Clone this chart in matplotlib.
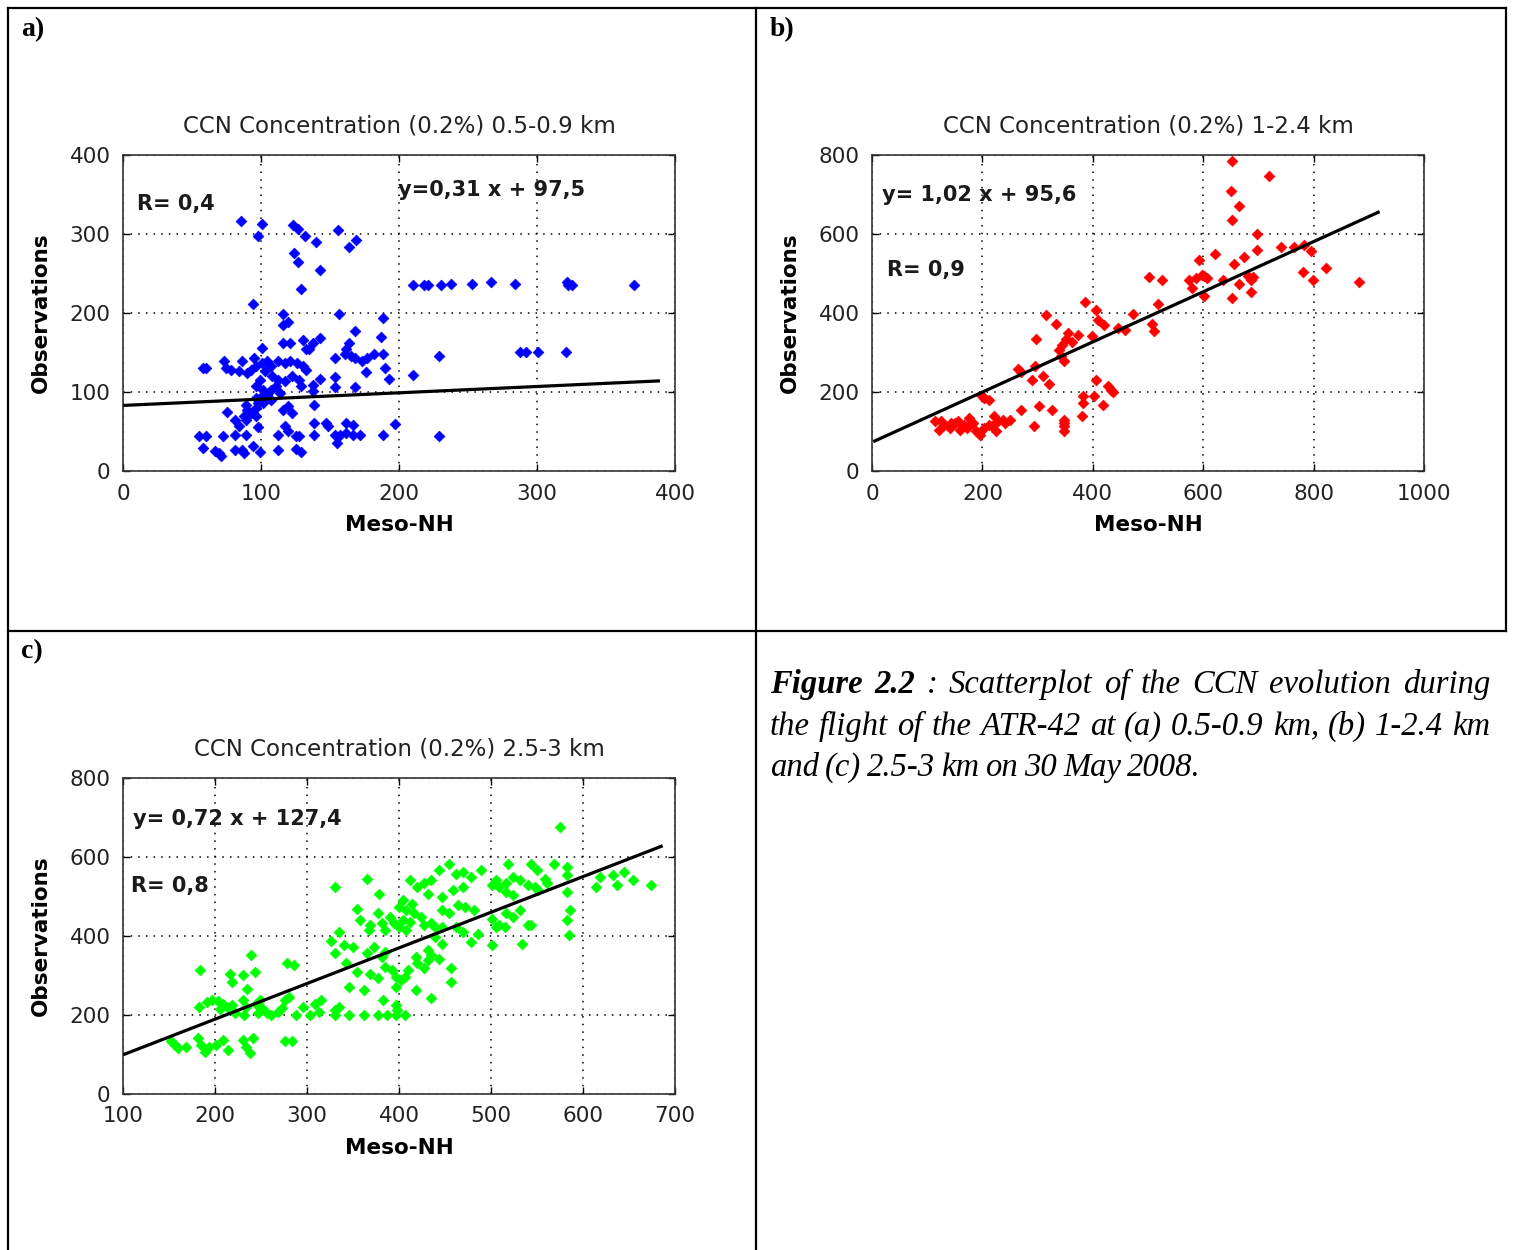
import matplotlib
matplotlib.use("Agg")
import matplotlib.pyplot as plt
from matplotlib.lines import Line2D

# ---- panel a : 0.5-0.9 km ----
a_x = [85.5, 101, 98, 123, 127, 132, 156, 140, 169, 164, 124, 127, 143, 129, 94,
       210, 218, 221, 230.6, 238, 252.6, 267, 284, 321.5, 322.5, 325, 370,
       288, 292, 300.5, 320.7, 228.8, 228.8, 210, 197, 188.6, 188.6, 186.8, 188.6,
       190, 192.5, 182, 177, 173, 176, 168, 164, 161.4, 160.9, 165, 168, 153.6,
       156.7, 153.6, 153.6, 168, 143, 138, 138, 142.7, 138, 132.9, 135, 130.3,
       121, 116, 116, 116, 119.4, 101, 95,
       57.8, 60.4, 73.3, 74.6, 78.5, 86.3, 83.7, 90.2, 92.7, 96.6, 100.5, 104.4,
       107.0, 112.2, 117.4, 121.2, 126.4, 130.3, 132.9, 103.1, 108.3, 112.2, 117.4,
       122.5, 127.7, 129.0, 99.2, 96.6, 101.8, 107.0, 110.9, 113.5, 104.4, 100.5,
       96.6, 88.9, 90.2, 91.5, 94.0, 96.6, 97.9, 101.8, 107.0, 87.6, 96.6, 88.9,
       75.4, 81.1, 83.7, 81.1, 88.9, 97.9, 116.1, 119.9, 122.5, 117.4, 119.9,
       112.2, 125.1, 127.7, 138.1, 138.1, 138.1, 147.2, 148.4, 153.6, 157.5,
       161.4, 166.6, 171.8, 154.9, 161.4, 166.6, 55.2, 60.4, 72.5, 57.8, 66.8,
       69.4, 70.7, 81.1, 86.3, 87.6, 94.0, 99.2, 112.2, 125.1, 129.0]
a_y = [316, 313, 298, 312, 306, 298, 305, 290, 293, 283, 276, 265, 255, 230, 212,
       235, 235, 235, 235, 237, 237, 239, 237, 239, 235, 235, 235,
       151, 151, 151, 151, 145, 44, 122, 59, 46, 194, 170, 148.5,
       130, 116, 148, 143, 139, 125, 177, 162, 154, 148, 146, 143, 143,
       199, 119, 106, 106, 116, 109, 101, 168, 162, 154, 154, 166,
       162, 162, 199, 185, 189, 156, 143,
       130.4, 130.4, 138.8, 130.4, 128.3, 138.8, 126.2, 124.1, 128.3, 132.5, 136.7, 138.8,
       132.5, 138.8, 136.7, 138.8, 136.7, 132.5, 128.3, 126.2, 119.8, 115.6, 113.5,
       119.8, 115.6, 107.2, 115.6, 107.2, 103.0, 103.0, 107.2, 98.7, 96.6, 94.5,
       92.4, 84.0, 77.6, 71.3, 73.4, 79.7, 86.1, 86.1, 90.3, 69.2, 69.2, 65.0,
       74.7, 65.0, 56.5, 46.0, 46.0, 55.7, 77.6, 81.9, 73.4, 56.5, 50.2,
       46.0, 43.9, 43.9, 84.0, 60.8, 46.0, 60.8, 56.5, 46.0, 46.0,
       48.1, 46.0, 46.0, 35.4, 60.8, 58.6, 43.9, 43.9, 43.9, 29.1, 24.9,
       22.8, 18.6, 27.0, 27.0, 22.8, 32.1, 23.6, 27.0, 27.8, 23.6]
a_fit_x = [0, 388]
a_fit_y = [83, 114]

# ---- panel b : 1-2.4 km ----
b_x = [653, 720, 650, 665, 653, 697, 697, 741, 765, 783, 795, 674, 656, 621, 592,
       823, 780, 799, 883, 681, 686, 691, 686, 665, 653, 635, 601, 606, 597, 587,
       574, 580, 601, 502, 525, 519, 472, 508, 511, 458, 445, 420, 409, 406, 399,
       385, 315, 333, 373, 355, 362, 351, 344, 338, 343, 347, 297, 296, 289, 309,
       320, 265, 270, 302, 326, 294, 270, 406, 402, 383, 382, 381, 428, 433, 437,
       419, 348, 348, 348, 348,
       114.6, 121, 130.7, 140.5, 150.2, 159.9, 166.3, 176, 182.5, 189, 195.5, 202,
       211.7, 221.4, 227.8, 237.5, 250.5, 224.6, 202, 211.7, 198.7, 124.3, 143.7,
       156.6, 172.8, 218.1, 240.8]
b_y = [784, 748, 708, 672, 636, 601, 560, 566, 566, 573, 556, 541, 524, 550, 535,
       514, 504, 484, 478, 493, 484, 491, 453, 473, 438, 484, 493, 489, 497, 489,
       484, 463, 442, 490, 484, 424, 398, 373, 354, 358, 362, 369, 383, 408, 343,
       428, 394, 373, 345, 349, 327, 333, 320, 307, 290, 278, 333, 267, 231, 241,
       219, 257, 250, 165, 155, 115, 155, 231, 191, 189, 172, 140, 214, 206, 199,
       168, 130, 122, 113, 102,
       125.7, 104.6, 117.3, 108.9, 121.5, 104.6, 117.3, 134.2, 121.5, 100.4, 92, 108.9,
       117.3, 138.4, 125.7, 130, 130, 100.4, 184.8, 180.6, 189, 125.7, 121.5,
       125.7, 108.9, 113.1, 121.5]
b_fit_x = [5, 917]
b_fit_y = [76, 655]

# ---- panel c : 2.5-3 km ----
c_x = [183.3, 182.6, 191, 197, 203, 208.5, 205, 214, 218, 222, 216, 218, 230, 243,
       234.5, 239.5, 230, 234, 232, 245, 249, 251, 247, 257, 261, 269, 272.5, 276,
       280, 288, 296, 303.5, 309, 315, 313, 330.6, 334.5, 330.6, 346, 361.6, 377,
       387, 396.5, 406, 383, 396.5, 398, 278, 286,
       152, 156, 160, 168, 181, 185, 189, 193, 201, 208.5, 214, 230, 234, 237.5,
       241.5, 276, 284,
       354, 358, 367.4, 369, 377, 381, 385, 390.7, 394.6, 400, 404, 408, 412, 416,
       423.6, 427.5, 435, 439, 447, 326, 335, 330.6, 340, 350, 365.5, 373, 381,
       385, 342, 354, 346, 361.6, 369, 377, 385, 392.6, 396.5, 402, 406, 396.5,
       410, 418, 420, 427.5, 431, 443, 456.6, 456.6, 435, 418, 400, 408, 404, 414,
       330.6, 364.7, 378,
       412, 420, 427.5, 431, 435, 443, 454.7, 462, 470, 478, 489.5, 447, 458.5,
       470, 464, 472, 482, 454.7, 462, 470, 478, 485.7, 501, 447, 439, 447, 431, 435,
       501, 509, 505, 516.7, 518.6, 524.4, 532, 540, 544, 549.6, 559, 569, 582.6,
       582.6, 582.6, 516.7, 524.4, 547.7, 551.6, 561, 501, 509, 516.7, 524.4, 532,
       540, 544, 534, 505, 514.7, 574.8, 586, 582.6, 584.5,
       613.6, 619, 633, 637, 644.6, 654, 673.6]
c_y = [315, 221, 234, 238, 236, 229, 214, 217, 225, 204, 305, 284, 301, 309,
       265, 352, 238, 221, 200, 229, 238, 217, 204, 204, 200, 208, 217, 238,
       246, 200, 219, 200, 229, 238, 208, 213, 221, 200, 200, 200, 200,
       200, 200, 200, 238, 225, 213, 332, 326,
       133, 124, 116, 120, 141, 124, 107, 120, 124, 137, 112, 137, 120, 103,
       141, 135, 135,
       469, 440, 416, 427, 457, 432, 415, 448, 432, 423, 440, 415, 436, 457,
       448, 427, 432, 423, 423, 388, 410.5, 356, 377, 373, 357, 373, 347,
       360, 330.5, 309.5, 271.6, 263, 305, 292.6, 322, 314, 297, 288, 297, 271.6,
       314, 347, 330.5, 318, 339, 343, 318, 282.5, 242, 263, 474, 465, 490.5, 482,
       524, 544, 507,
       541, 524, 533, 507, 541, 566, 583, 558, 562, 549.5, 566, 499, 516,
       524, 478, 474, 465, 457, 423, 410.5, 385, 406, 377, 465, 398, 381, 364, 352,
       528, 524, 541, 533, 583, 549.5, 541, 528, 583, 566, 545, 583, 575,
       554, 512, 512, 503, 524, 516, 533, 444, 427, 457, 448, 465,
       427, 427, 381, 423, 423, 676, 465, 440, 402,
       524, 549.5, 554, 528, 562, 543, 528]
c_fit_x = [102, 685]
c_fit_y = [101, 627]

W, H = 1514, 1250
fig = plt.figure(figsize=(W / 100, H / 100), dpi=100)
fig.patch.set_facecolor('white')


def fx(px):
    return px / W


def fy(py):
    return 1 - py / H


def make_panel(rect, xs, ys, color, fit_x, fit_y, xlim, ylim, xticks, yticks,
               title, eq, eq_pos, rtxt, r_pos):
    left, top, right, bottom = rect
    ax = fig.add_axes([fx(left), fy(bottom), fx(right - left), (bottom - top) / H])
    ax.scatter(xs, ys, marker='D', s=30, c=color, edgecolors=color,
               linewidths=0.5, zorder=3)
    ax.plot(fit_x, fit_y, color='black', lw=2.3, zorder=4)
    ax.set_xlim(*xlim)
    ax.set_ylim(*ylim)
    ax.set_xticks(xticks)
    ax.set_yticks(yticks)
    ax.grid(True, color='black', linestyle=(0, (1, 4)), linewidth=1.1)
    ax.tick_params(direction='in', length=5, width=1, top=True, right=True,
                   labelsize=15.5, pad=9, colors='black')
    for lab in ax.get_xticklabels() + ax.get_yticklabels():
        lab.set_color('#222222')
    for sp in ax.spines.values():
        sp.set_linewidth(1.2)
        sp.set_color('#333333')
    ax.set_xlabel('Meso-NH', fontsize=15.5, fontweight='bold')
    ax.set_ylabel('Observations', fontsize=15.5, fontweight='bold')
    ax.xaxis.set_label_coords(0.5, -0.14)
    ax.yaxis.set_label_coords(-0.13, 0.5)
    ax.text(0.5, 1.092, title, transform=ax.transAxes, ha='center',
            va='center', fontsize=16.5, color='#222222')
    ax.text(eq_pos[0], eq_pos[1], eq, transform=ax.transAxes, ha='left',
            va='center', fontsize=15, fontweight='bold', color='#1a1a1a')
    ax.text(r_pos[0], r_pos[1], rtxt, transform=ax.transAxes, ha='left',
            va='center', fontsize=15, fontweight='bold', color='#1a1a1a')
    return ax


make_panel((123, 155, 675, 471), a_x, a_y, '#0000ff', a_fit_x, a_fit_y,
           (0, 400), (0, 400), [0, 100, 200, 300, 400], [0, 100, 200, 300, 400],
           'CCN Concentration (0.2%) 0.5-0.9 km',
           'y=0,31 x + 97,5', (0.498, 0.889), 'R= 0,4', (0.025, 0.845))

make_panel((872, 155, 1424, 471), b_x, b_y, '#ff0000', b_fit_x, b_fit_y,
           (0, 1000), (0, 800), [0, 200, 400, 600, 800, 1000], [0, 200, 400, 600, 800],
           'CCN Concentration (0.2%) 1-2.4 km',
           'y= 1,02 x + 95,6', (0.018, 0.873), 'R= 0,9', (0.027, 0.636))

make_panel((123, 778, 675, 1094), c_x, c_y, '#00ff00', c_fit_x, c_fit_y,
           (100, 700), (0, 800), [100, 200, 300, 400, 500, 600, 700], [0, 200, 400, 600, 800],
           'CCN Concentration (0.2%) 2.5-3 km',
           'y= 0,72 x + 127,4', (0.018, 0.870), 'R= 0,8', (0.0145, 0.658))

# table borders
lw = 1.6
for (x0, y0, x1, y1) in [(8, 8, 1506, 8), (8, 8, 8, 1250), (1506, 8, 1506, 631),
                         (756, 8, 756, 1250), (8, 631, 1506, 631)]:
    fig.add_artist(Line2D([fx(x0), fx(x1)], [fy(y0), fy(y1)], color='black',
                          lw=lw, transform=fig.transFigure))

# panel letters
for lab, (px, py) in zip(['a)', 'b)', 'c)'], [(21, 30), (770, 30), (21, 652)]):
    fig.text(fx(px), fy(py), lab, fontsize=20, fontweight='bold',
             family='Liberation Serif', va='center', ha='left')

# caption, justified over two lines then a short last line
cap_lines = [
    [('Figure', 'bold'), ('2.2', 'bold'), (':', 'normal'), ('Scatterplot', 'normal'),
     ('of', 'normal'), ('the', 'normal'), ('CCN', 'normal'), ('evolution', 'normal'),
     ('during', 'normal')],
    [(w, 'normal') for w in 'the flight of the ATR-42 at (a) 0.5-0.9 km, (b) 1-2.4 km'.split()],
    [(w, 'normal') for w in 'and (c) 2.5-3 km on 30 May 2008.'.split()],
]
cap_left, cap_right = 770, 1490
baselines = [693, 735, 776]
renderer = fig.canvas.get_renderer()
for li, (words, base) in enumerate(zip(cap_lines, baselines)):
    texts = []
    for w, wt in words:
        t = fig.text(0, fy(base), w, fontsize=23.5, fontweight=wt, style='italic',
                     family='Liberation Serif', va='baseline', ha='left')
        texts.append(t)
    widths = [t.get_window_extent(renderer).width for t in texts]
    if li < 2:
        gap = max(4, (cap_right - cap_left - sum(widths)) / (len(words) - 1))
    else:
        gap = 6
    x = cap_left
    for t, wdt in zip(texts, widths):
        t.set_x(fx(x))
        x += wdt + gap

fig.savefig('out.png', dpi=100)
